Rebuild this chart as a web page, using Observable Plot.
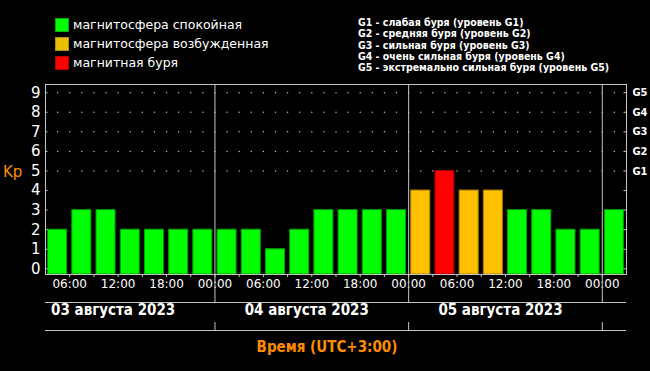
<!DOCTYPE html>
<html><head><meta charset="utf-8">
<script src="https://cdn.jsdelivr.net/npm/d3@7"></script>
<script src="https://cdn.jsdelivr.net/npm/@observablehq/plot@0.6"></script>
<style>
body{margin:0;background:#000;}
#wrap{position:relative;width:650px;height:371px;background:#000;overflow:hidden;font-family:"DejaVu Sans",sans-serif;}
.ov{position:absolute;white-space:nowrap;}
.sw{position:absolute;width:12px;height:12px;}
</style></head><body><div id="wrap"></div>
<script>
// ---- data ----
const intervalStarts = [
  "2023-08-03T03:00","2023-08-03T06:00","2023-08-03T09:00","2023-08-03T12:00",
  "2023-08-03T15:00","2023-08-03T18:00","2023-08-03T21:00",
  "2023-08-04T00:00","2023-08-04T03:00","2023-08-04T06:00","2023-08-04T09:00",
  "2023-08-04T12:00","2023-08-04T15:00","2023-08-04T18:00","2023-08-04T21:00",
  "2023-08-05T00:00","2023-08-05T03:00","2023-08-05T06:00","2023-08-05T09:00",
  "2023-08-05T12:00","2023-08-05T15:00","2023-08-05T18:00","2023-08-05T21:00",
  "2023-08-06T00:00"
];
const kpValues = [2,3,3,2,2,2,2, 2,2,1,2,3,3,3,3, 4,5,4,4,3,3,2,2, 3];
const domainStart = "2023-08-03T03:00";
const domainEnd = "2023-08-06T03:00";
const dayBoundaries = ["2023-08-04T00:00","2023-08-05T00:00","2023-08-06T00:00"];
const timeTicks = [
  "2023-08-03T06:00","2023-08-03T12:00","2023-08-03T18:00","2023-08-04T00:00",
  "2023-08-04T06:00","2023-08-04T12:00","2023-08-04T18:00","2023-08-05T00:00",
  "2023-08-05T06:00","2023-08-05T12:00","2023-08-05T18:00","2023-08-06T00:00"
];
const dateCenters = ["2023-08-03T12:00","2023-08-04T12:00","2023-08-05T12:00"];
const dateLabels = ["03 августа 2023","04 августа 2023","05 августа 2023"];
const kpTicks = [0,1,2,3,4,5,6,7,8,9];
const gLevels = [5,6,7,8,9];
const gLabels = ["G1","G2","G3","G4","G5"];
const legendLabels = ["магнитосфера спокойная","магнитосфера возбужденная","магнитная буря"];
const legendColors = ["#00ff00","#e8c000","#ff0000"];
const legendBorders = ["#00b000","#b09000","#b00000"];
const stormLegend = [
  "G1 - слабая буря (уровень G1)",
  "G2 - средняя буря (уровень G2)",
  "G3 - сильная буря (уровень G3)",
  "G4 - очень сильная буря (уровень G4)",
  "G5 - экстремально сильная буря (уровень G5)"
];
const yAxisTitle = "Kp";
const xAxisTitle = "Время (UTC+3:00)";

// ---- helpers ----
const parse = s => new Date(s + ":00Z");
const HOUR = 3600e3;
const start = parse(domainStart), end = parse(domainEnd);
const rows = intervalStarts.map((s, i) => {
  const t = parse(s);
  const kp = kpValues[i];
  return {start: t, end: new Date(+t + 3*HOUR), kp,
    fill: kp >= 5 ? "#ff0000" : kp >= 4 ? "#ffc000" : "#00ff00",
    stroke: kp >= 5 ? "#a00000" : kp >= 4 ? "#b08000" : "#00a000"};
});
const W = 650, H = 371, mL = 45, mR = 24, mT = 84, mB = 97;
const frameW = W - mL - mR, frameH = H - mT - mB;
const yMin = -0.29, yMax = 9.42;
const gray = "#c4c4c4";
const grid = [];
for (let i = 1; i * 1.5 * HOUR < (end - start); i++)
  for (const v of gLevels) grid.push({t: new Date(+start + i * 1.5 * HOUR), v});
const bounds3h = rows.map(r => r.start).slice(1);
const fmtTime = d3.utcFormat("%H:%M");

const chart = Plot.plot({
  width: W, height: H,
  marginLeft: mL, marginRight: mR, marginTop: mT, marginBottom: mB,
  style: {background: "#000", color: "white", fontFamily: "DejaVu Sans, sans-serif", overflow: "visible"},
  x: {type: "utc", domain: [start, end], axis: null},
  y: {domain: [yMin, yMax], axis: null},
  marks: [
    Plot.dot(grid, {x: "t", y: "v", r: 0.75, fill: "#b8b8b8"}),
    Plot.rect(rows, {x1: "start", x2: "end", y1: rows.map(() => yMin), y2: "kp",
      fill: "fill", stroke: "stroke", strokeWidth: 1, insetLeft: 2.6, insetRight: 2.6}),
    Plot.ruleX(bounds3h, {stroke: gray, insetTop: frameH, insetBottom: -3}),
    Plot.ruleY(kpTicks, {stroke: gray, insetRight: frameW - 2.5}),
    Plot.ruleY(kpTicks, {stroke: gray, insetLeft: frameW - 2.5}),
    Plot.text(timeTicks.map(parse), {x: d => d, text: d => fmtTime(d), frameAnchor: "bottom", dy: 13.5,
      fill: "white", fontSize: 12, fontFamily: "DejaVu Sans", letterSpacing: "0.5px"}),
    Plot.text(dateCenters.map(parse), {x: d => d, text: (d, i) => dateLabels[i], frameAnchor: "bottom", dy: 40, dx: -5,
      fill: "white", fontSize: 15, fontWeight: "bold", fontFamily: "'Liberation Sans Narrow', 'DejaVu Sans Condensed', sans-serif"}),
    Plot.ruleX(dayBoundaries.map(parse), {stroke: gray, insetBottom: -28}),
    Plot.ruleX(dayBoundaries.map(parse), {stroke: gray, insetTop: frameH + 48, insetBottom: -56}),
    Plot.ruleY([yMin], {stroke: gray, dy: 28}),
    Plot.ruleY([yMin], {stroke: gray, dy: 56}),
    Plot.frame({stroke: gray}),
    Plot.axisY(kpTicks, {anchor: "left", tickSize: 0, tickPadding: 5, fontSize: 15, label: null, fill: "white"}),
    Plot.axisY(gLevels, {anchor: "right", tickSize: 0, tickPadding: 6, fontSize: 11, fontWeight: "bold",
      fontFamily: "'DejaVu Sans Condensed', 'DejaVu Sans', sans-serif", label: null, fill: "white",
      tickFormat: d => gLabels[gLevels.indexOf(d)]})
  ]
});
const wrap = document.getElementById("wrap");
wrap.appendChild(chart);

// overlays: legends and titles
legendLabels.forEach((lab, i) => {
  const sw = document.createElement("div");
  sw.className = "sw";
  sw.style.left = "55px"; sw.style.top = (18 + i * 19) + "px";
  sw.style.background = legendColors[i]; sw.style.border = "1px solid " + legendBorders[i];
  wrap.appendChild(sw);
  const t = document.createElement("div");
  t.className = "ov";
  t.textContent = lab;
  t.style.left = "73px"; t.style.top = (15 + i * 19) + "px";
  t.style.fontSize = "12.5px"; t.style.lineHeight = "19px"; t.style.color = "white";
  wrap.appendChild(t);
});
stormLegend.forEach((lab, i) => {
  const t = document.createElement("div");
  t.className = "ov";
  t.textContent = lab;
  t.style.left = "358px"; t.style.top = (17 + i * 11.35) + "px";
  t.style.fontSize = "10.5px"; t.style.lineHeight = "11.35px"; t.style.fontWeight = "bold";
  t.style.fontFamily = "'DejaVu Sans Condensed','DejaVu Sans',sans-serif";
  t.style.color = "white";
  wrap.appendChild(t);
});
const kp = document.createElement("div");
kp.className = "ov"; kp.textContent = yAxisTitle;
kp.style.left = "3px"; kp.style.top = "161px"; kp.style.fontSize = "15px"; kp.style.lineHeight = "22px";
kp.style.color = "#ff8c00";
wrap.appendChild(kp);
const xt = document.createElement("div");
xt.className = "ov"; xt.textContent = xAxisTitle;
xt.style.left = "0"; xt.style.width = "654px"; xt.style.textAlign = "center";
xt.style.top = "337px"; xt.style.fontSize = "15px"; xt.style.lineHeight = "20px"; xt.style.fontWeight = "bold";
xt.style.fontFamily = "'Liberation Sans Narrow','DejaVu Sans Condensed',sans-serif";
xt.style.color = "#ff8c00";
wrap.appendChild(xt);
</script></body></html>
